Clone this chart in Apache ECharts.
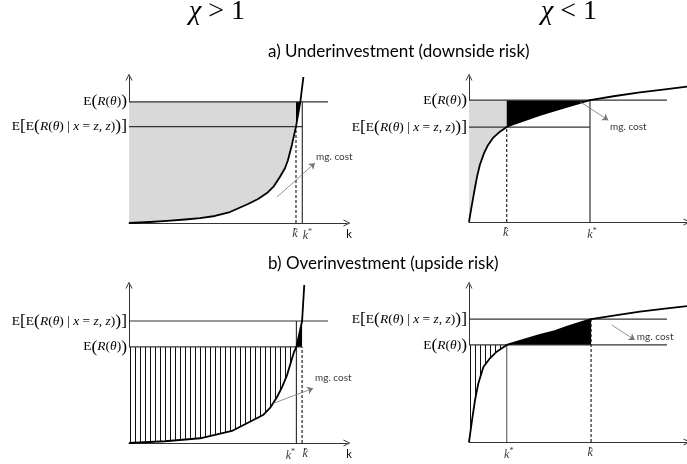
<!DOCTYPE html>
<html>
<head>
<meta charset="utf-8">
<script src="https://cdn.jsdelivr.net/npm/echarts@6/dist/echarts.min.js"></script>
<style>html,body{margin:0;padding:0;background:#fff}#c{width:687px;height:464px}</style>
</head>
<body>
<div id="c"></div>
<script>
// ---------- data (k on x, value on y, each panel scaled 0..100) ----------
// marginal cost curves
const tlCurve = [[0,0],[9.6,0.7],[17.4,1.4],[25.7,2.4],[32.6,3.4],[39.4,4.8],[46.3,7.5],[54.6,13],[59.2,16.4],[63.3,20.5],[66.5,25.3],[69.2,31.5],[71.6,37.7],[72.9,43],[74.8,54],[76.6,66],[78.6,83],[80,100]];
const trCurve = [[0,0],[1,9],[2,17.5],[2.9,25],[3.8,32],[5,39.5],[6.9,47.5],[8.7,53],[11,58],[14.2,62.3],[17.3,65.5],[21.1,67.9],[25.7,70.3],[32.6,73.8],[39.4,76.9],[46.3,80],[55.5,84],[67,86.9],[78.4,89.4],[89.9,91.5],[100,93.3]];
const blCurve = [[0,0],[16.5,1.1],[32.6,3],[47.2,7.6],[61.5,17.7],[64.7,22.2],[67.9,29.1],[70.2,35.4],[72.5,43],[74.3,51.3],[75.7,57.6],[76.8,60.8],[78.1,69],[79.4,77.2],[79.9,88.6],[80.4,100]];
const brCurve = [[0,0],[1.4,14],[2.8,27],[4.3,37.4],[6.6,47.8],[9.6,53.3],[12.7,57.5],[17.3,61.8],[21.1,63.5],[24.9,65],[32.6,68.2],[39.4,70.7],[44.8,73.4],[50.9,76.1],[56,78.3],[67,80.6],[78.4,83],[89.9,85],[100,86.6]];
// levels: [E(R(θ)), E[E(R(θ)|x=z,z))]]
const tlLevels = [83, 66];
const trLevels = [84, 65.5];
const blLevels = [60.8, 77.2];
const brLevels = [61.8, 78.3];
// investment levels: [k̂, k*]
const tlK = [76.6, 79.5];
const trK = [17.3, 55.5];
const blK = [79.4, 76.8];
const brK = [56, 17.3];
// right end of the long level lines (k units)
const levelEnds = [91.3, 90.8, 91.3, 90.8];
// "mg. cost" pointer: [from, to], and text anchor
const tlNote = [[67.9,17.8],[85.3,41.1]], tlNoteText = [85.8,45.2];
const trNote = [[50.9,83],[63.9,70.2]], trNoteText = [64.7,65.7];
const blNote = [[66.2,25.1],[84.5,34.6]], blNoteText = [85.3,41];
const brNote = [[65.5,74.5],[76.1,65]], brNoteText = [77,67];
// texts
const headTexts = ['χ', ' > 1', ' < 1'];
const sectionTitles = ['a) Underinvestment (downside risk)', 'b) Overinvestment (upside risk)'];
const noteLabel = 'mg. cost';
const axisName = 'k';

// ---------- styling ----------
const serif = 'Liberation Serif';
const sans = 'Lato';
const GRAY = '#d9d9d9';
const LINE = '#333';
const chevron = 'path://M0,10 L5,0 L10,10 L8.6,10 L5,2.8 L1.4,10 Z';
const hatMark = 'path://M0,10 L5,0 L10,10 L8,10 L5,4 L2,10 Z';
// horizontal pixel nudges of the [k̂, k*] labels so they do not collide
const labelShift = [[-1, 5], [-1, 2], [3, -6], [-1, 2]];

const hatch = document.createElement('canvas');
hatch.width = 5; hatch.height = 4;
(function(){ const c = hatch.getContext('2d'); c.fillStyle = '#fff'; c.fillRect(0,0,5,4); c.fillStyle = '#111'; c.fillRect(0,0,1,4); })();

const rich = {
  e: {fontFamily: serif, fontSize: 13.5, color: '#000'},
  p: {fontFamily: serif, fontSize: 17.5, color: '#000'},
  i: {fontFamily: serif, fontSize: 13.5, fontStyle: 'italic', color: '#000'},
  k: {fontFamily: serif, fontSize: 12, fontStyle: 'italic', color: '#000', lineHeight: 12},
  s: {fontFamily: serif, fontSize: 8, color: '#000', padding: [0,0,7,0]}
};
const erText = '{e|E}{p|(}{i|R}{e|(}{i|θ}{e|)}{p|)}';
const eeText = '{e|E}{p|[}{e|E}{p|(}{i|R}{e|(}{i|θ}{e|) | }{i|x}{e| = }{i|z}{e|, }{i|z}{e|)}{p|)]}';
const kHatText = '{k|k}';
const kStarText = '{k|k}{s|*}';

const grids = [
  {left: 129, top: 77, width: 218, height: 146},
  {left: 469, top: 77, width: 218, height: 145},
  {left: 129, top: 285, width: 218, height: 158},
  {left: 469, top: 285, width: 218, height: 157}
];

const curves = [tlCurve, trCurve, blCurve, brCurve];
const levels = [tlLevels, trLevels, blLevels, brLevels];
const ks = [tlK, trK, blK, brK];
const notes = [tlNote, trNote, blNote, brNote];
const noteTexts = [tlNoteText, trNoteText, blNoteText, brNoteText];

const xAxes = [], yAxes = [], series = [];
for (let i = 0; i < 4; i++) {
  const [ER, EE] = levels[i];
  const [kHat, kStar] = ks[i];
  const [shHat, shStar] = labelShift[i];
  xAxes.push({
    type: 'value', gridIndex: i, min: 0, max: 100,
    axisLine: {show: true, symbol: ['none', chevron], symbolSize: [7, 8], lineStyle: {color: LINE, width: 1}},
    axisTick: {show: false}, splitLine: {show: false}, axisLabel: {show: false},
    name: i % 2 === 0 ? axisName : '', nameLocation: 'end', nameGap: 2,
    nameTextStyle: {fontFamily: sans, fontSize: 11, color: '#000', verticalAlign: 'top', align: 'center', padding: [6,0,0,0]}
  });
  yAxes.push({
    type: 'value', gridIndex: i, min: 0, max: 100,
    axisLine: {show: true, symbol: ['none', chevron], symbolSize: [7, 8], lineStyle: {color: LINE, width: 1}},
    axisTick: {show: false}, splitLine: {show: false},
    axisLabel: {show: true, customValues: [ER, EE], margin: 2, rich: rich, hideOverlap: false, interval: 0,
      formatter: v => (v === ER ? erText : eeText)}
  });
  const base = {xAxisIndex: i, yAxisIndex: i, showSymbol: false, symbol: 'none', silent: true, animation: false};
  const c = curves[i];
  let fillA, fillB, colA;
  if (i === 0) {
    fillA = c.filter(p => p[1] <= ER);
    fillB = c.filter(p => p[0] >= kHat && p[1] <= ER);
    colA = GRAY;
  } else if (i === 1) {
    fillA = c.filter(p => p[0] <= kHat);
    fillB = c.filter(p => p[0] >= kHat && p[0] <= kStar);
    colA = GRAY;
  } else {
    fillA = c.filter(p => p[0] <= kStar);
    fillB = c.filter(p => p[0] >= kStar && p[0] <= kHat);
    colA = {image: hatch, repeat: 'repeat'};
  }
  series.push(Object.assign({type: 'line', data: fillA, z: 1, lineStyle: {width: 0}, areaStyle: {color: colA, opacity: 1, origin: ER}}, base));
  series.push(Object.assign({type: 'line', data: fillB, z: 1, lineStyle: {width: 0}, areaStyle: {color: '#000', opacity: 1, origin: ER}}, base));

  const solid = {color: LINE, width: 1.2};
  const dashed = {color: '#222', width: 1.2, type: [3, 2]};
  const seg = (d, ls) => series.push(Object.assign({type: 'line', data: d, z: 2, lineStyle: ls}, base));
  const end = levelEnds[i];
  if (i === 0 || i === 1) {
    seg([[0, ER], [end, ER]], solid);
    seg([[0, EE], [kStar, EE]], solid);
    seg([[kHat, 0], [kHat, EE]], dashed);
    seg([[kStar, 0], [kStar, ER]], solid);
  } else if (i === 2) {
    seg([[0, EE], [end, EE]], solid);
    seg([[0, ER], [kHat, ER]], solid);
    seg([[kStar, 0], [kStar, EE]], solid);
    seg([[kHat, 0], [kHat, ER]], dashed);
  } else {
    seg([[0, EE], [end, EE]], solid);
    seg([[0, ER], [end, ER]], solid);
    seg([[kStar, 0], [kStar, ER]], {color: '#666', width: 1.2});
    seg([[kHat, 0], [kHat, EE]], dashed);
  }
  series.push(Object.assign({type: 'line', data: c, z: 3, lineStyle: {color: '#000', width: 1.8, join: 'round'}}, base));
  series.push({type: 'lines', coordinateSystem: 'cartesian2d', xAxisIndex: i, yAxisIndex: i, z: 4, silent: true,
    symbol: ['none', 'arrow'], symbolSize: 6,
    lineStyle: {color: '#777', width: 0.8, opacity: 1},
    data: [{coords: notes[i]}]});
  series.push({type: 'scatter', xAxisIndex: i, yAxisIndex: i, symbolSize: 0, silent: true, z: 4,
    data: [noteTexts[i]],
    label: {show: true, position: 'right', distance: 0, formatter: noteLabel, fontFamily: sans, fontSize: 10, color: '#000'}});
  // k̂ and k* labels under the k axis
  series.push({type: 'scatter', xAxisIndex: i, yAxisIndex: i, symbolSize: 0, silent: true, z: 4, clip: false,
    data: [
      {value: [kHat, 0], label: {formatter: kHatText, offset: [shHat, 0]}},
      {value: [kStar, 0], label: {formatter: kStarText, offset: [shStar, 0]}}
    ],
    label: {show: true, position: 'bottom', distance: 5, rich: rich}});
  // circumflex over k̂
  series.push({type: 'scatter', xAxisIndex: i, yAxisIndex: i, silent: true, z: 5, clip: false,
    symbol: hatMark, symbolSize: [4, 2.6], symbolOffset: [shHat + 0.8, 6], itemStyle: {color: '#000'},
    data: [[kHat, 0]]});
}

const headStyle = {fontFamily: serif, fontSize: 28, fontWeight: 'normal', color: '#000',
  rich: {i: {fontFamily: serif, fontSize: 28, fontStyle: 'italic', color: '#000'}}};
const secStyle = {fontFamily: sans, fontSize: 17, fontWeight: 'normal', color: '#000'};

const chart = echarts.init(document.getElementById('c'), null, {renderer: 'canvas'});
chart.setOption({
  animation: false,
  backgroundColor: '#fff',
  title: [
    {text: '{i|' + headTexts[0] + '}' + headTexts[1], left: 189, top: -2, padding: 0, textStyle: headStyle},
    {text: '{i|' + headTexts[0] + '}' + headTexts[2], left: 541, top: -2, padding: 0, textStyle: headStyle},
    {text: sectionTitles[0], left: 268, top: 43, padding: 0, textStyle: secStyle},
    {text: sectionTitles[1], left: 268, top: 255, padding: 0, textStyle: secStyle}
  ],
  grid: grids.map(g => Object.assign({outerBoundsMode: 'none', containLabel: false}, g)),
  xAxis: xAxes,
  yAxis: yAxes,
  series: series
});
</script>
</body>
</html>
